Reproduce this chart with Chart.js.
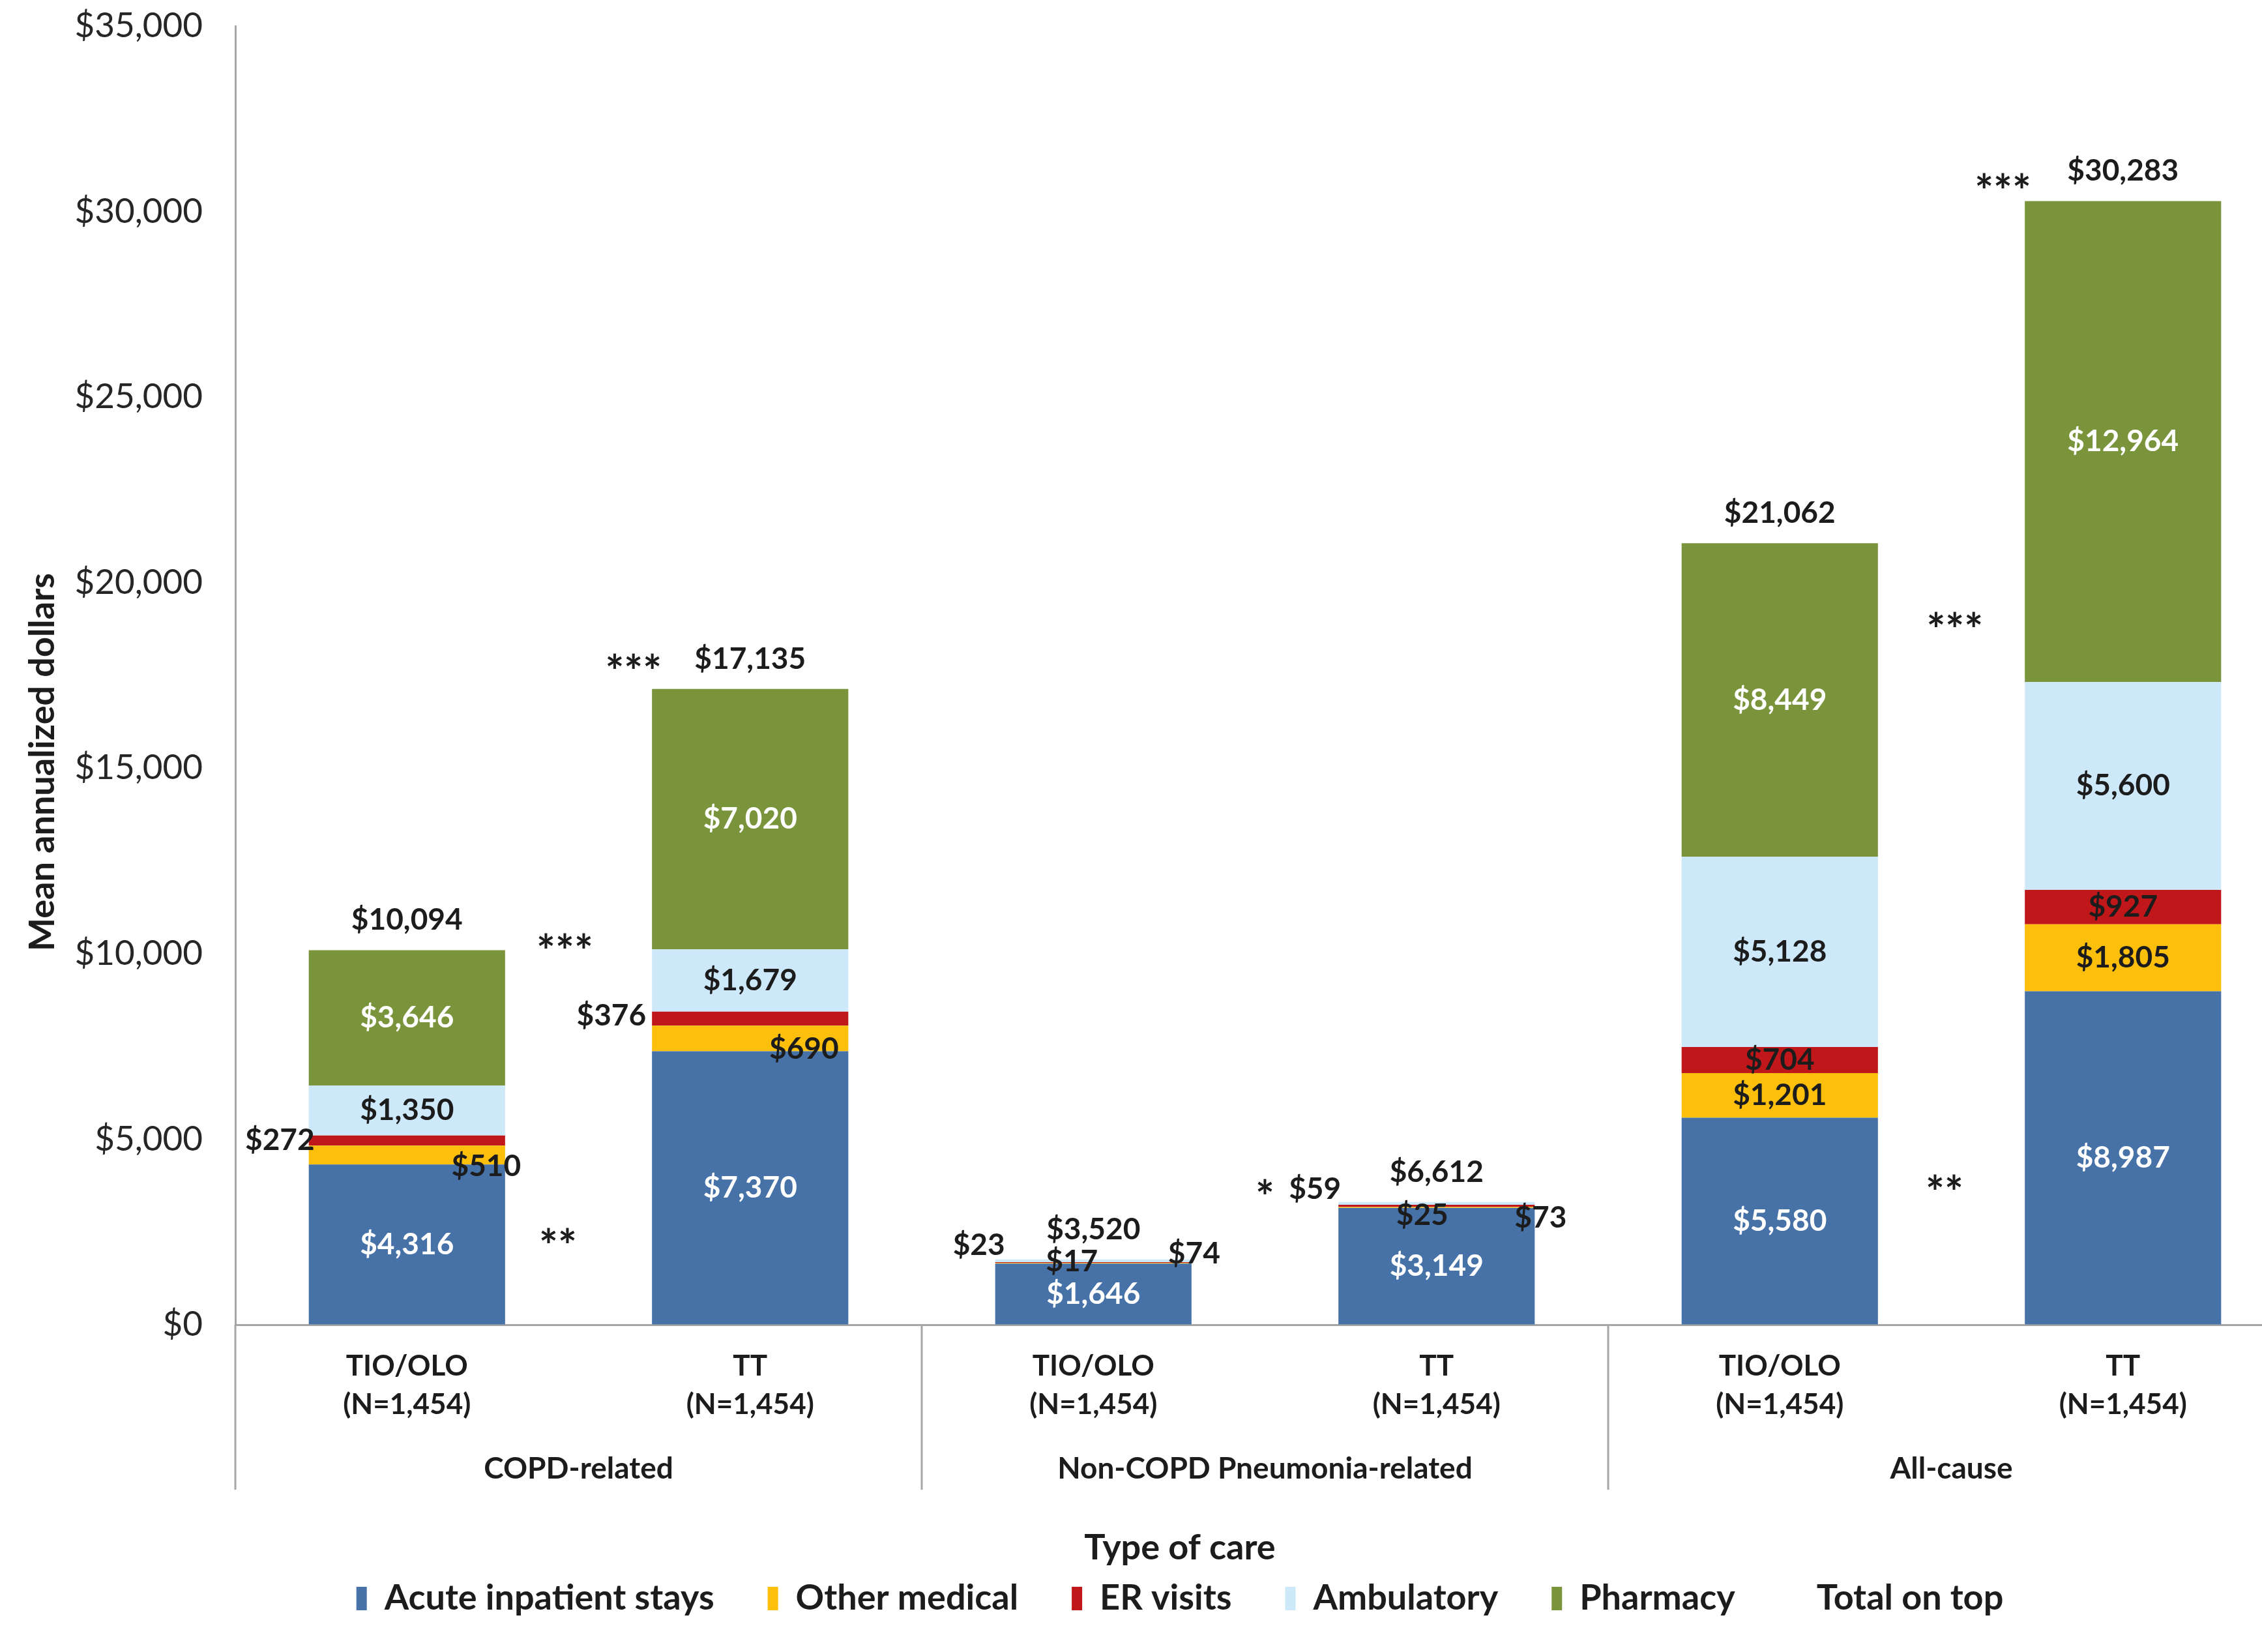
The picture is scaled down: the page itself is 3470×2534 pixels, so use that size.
<!DOCTYPE html>
<html>
<head>
<meta charset="utf-8">
<script src="https://cdn.jsdelivr.net/npm/chart.js@4.4.1/dist/chart.umd.min.js"></script>
<style>
  html, body { margin: 0; padding: 0; background: #fff; overflow: hidden; }
  #wrap { width: 3620px; height: 2534px; }
</style>
</head>
<body>
<div id="wrap"><canvas id="costChart" width="3620" height="2534"></canvas></div>
<script>
// ---- data ----
const categories = [
  ['TIO/OLO', '(N=1,454)'], ['TT', '(N=1,454)'],
  ['TIO/OLO', '(N=1,454)'], ['TT', '(N=1,454)'],
  ['TIO/OLO', '(N=1,454)'], ['TT', '(N=1,454)']
];
const groups = ['COPD-related', 'Non-COPD Pneumonia-related', 'All-cause'];
const acuteInpatient = [4316, 7370, 1646, 3149, 5580, 8987];
const otherMedical   = [510, 690, 17, 25, 1201, 1805];
const erVisits       = [272, 376, 23, 59, 704, 927];
const ambulatory     = [1350, 1679, 74, 73, 5128, 5600];
const pharmacy       = [3646, 7020, 0, 0, 8449, 12964];
const totalOnTop     = [10094, 17135, 3520, 6612, 21062, 30283];
const yTicks = [0, 5000, 10000, 15000, 20000, 25000, 30000, 35000];
// significance marks: x in category units, y in dollars
const sigText = ['***', '**', '***', '*', '***', '**', '***'];
const sigX    = [0.46, 0.44, 0.66, 2.5, 4.51, 4.48, 4.65];
const sigY    = [10306, 2372, 17850, 3694, 18978, 3811, 30800];

const FONT = 'Lato, "Open Sans", sans-serif';
const DARK = '#1c1c1c';
const AXIS = '#a6a6a6';
const money = v => '$' + v.toLocaleString('en-US');

// labels nudged off the centre of their segment ("dataset-index")
const labelTweaks = {
  '2-0': { anchor: 'left', dx: 9, dy: 0 },
  '1-0': { anchor: 'right', dx: -29, dy: 17 },
  '2-1': { anchor: 'left', dx: -9, dy: -4 },
  '1-1': { anchor: 'right', dx: -68, dy: 16 },
  '1-2': { anchor: 'center', dx: -33, dy: -3 },
  '2-2': { anchor: 'left', dx: 15, dy: -27 },
  '3-2': { anchor: 'right', dx: 4, dy: -11 },
  '1-3': { anchor: 'center', dx: -22, dy: 12 },
  '2-3': { anchor: 'left', dx: 4, dy: -26 },
  '3-3': { anchor: 'right', dx: 9, dy: 22 }
};

const segmentLabels = {
  id: 'segmentLabels',
  afterDatasetsDraw(chart) {
    const ctx = chart.ctx;
    ctx.save();
    ctx.font = 'bold 46px ' + FONT;
    ctx.textBaseline = 'middle';
    for (let d = 0; d < 5; d++) {
      const meta = chart.getDatasetMeta(d);
      const values = chart.data.datasets[d].data;
      meta.data.forEach((bar, i) => {
        if (!values[i]) return;
        const t = labelTweaks[d + '-' + i];
        let x = bar.x, y = (bar.y + bar.base) / 2;
        ctx.textAlign = 'center';
        ctx.fillStyle = (d === 0 || d === 4) ? '#ffffff' : DARK;
        if (t) {
          ctx.fillStyle = DARK;
          if (t.anchor === 'left') { x = bar.x - bar.width / 2 + t.dx; ctx.textAlign = 'right'; }
          else if (t.anchor === 'right') { x = bar.x + bar.width / 2 + t.dx; }
          else { x = bar.x + t.dx; }
          y += t.dy;
        }
        ctx.fillText(money(values[i]), x, y);
      });
    }
    // totals above the stack
    const topMeta = chart.getDatasetMeta(4);
    ctx.fillStyle = DARK;
    ctx.textAlign = 'center';
    topMeta.data.forEach((bar, i) => {
      ctx.fillText(money(totalOnTop[i]), bar.x, bar.y - 46);
    });
    // significance stars (asterisk glyph sits high, so push it down a bit)
    const xs = chart.scales.x, ys = chart.scales.y;
    const step = xs.getPixelForValue(1) - xs.getPixelForValue(0);
    ctx.font = 'bold 68px ' + FONT;
    sigText.forEach((s, k) => {
      ctx.fillText(s, xs.getPixelForValue(0) + sigX[k] * step, ys.getPixelForValue(sigY[k]) + 17);
    });
    ctx.restore();
  }
};

const groupAxis = {
  id: 'groupAxis',
  afterDraw(chart) {
    const ctx = chart.ctx;
    const xs = chart.scales.x;
    const area = chart.chartArea;
    const step = xs.getPixelForValue(1) - xs.getPixelForValue(0);
    const lineBottom = area.bottom + 253;
    ctx.save();
    ctx.strokeStyle = AXIS;
    ctx.lineWidth = 3;
    ctx.beginPath();
    for (let g = 0; g <= groups.length; g++) {
      const bx = xs.getPixelForValue(0) - step / 2 + g * 2 * step;
      ctx.moveTo(bx, area.bottom);
      ctx.lineTo(bx, lineBottom);
    }
    ctx.stroke();
    ctx.fillStyle = DARK;
    ctx.font = 'bold 46px ' + FONT;
    ctx.textAlign = 'center';
    ctx.textBaseline = 'middle';
    groups.forEach((g, k) => {
      const cx = (xs.getPixelForValue(2 * k) + xs.getPixelForValue(2 * k + 1)) / 2;
      ctx.fillText(g, cx, area.bottom + 221);
    });
    // y axis title
    ctx.translate(66, 1169);
    ctx.rotate(-Math.PI / 2);
    ctx.font = 'bold 54px ' + FONT;
    ctx.fillText('Mean annualized dollars', 0, 0);
    ctx.restore();
  }
};

const PLOT_BOTTOM = 2032;

new Chart(document.getElementById('costChart').getContext('2d'), {
  type: 'bar',
  data: {
    labels: categories,
    datasets: [
      { label: 'Acute inpatient stays', data: acuteInpatient, backgroundColor: '#4672a8' },
      { label: 'Other medical', data: otherMedical, backgroundColor: '#fbbf0c' },
      { label: 'ER visits', data: erVisits, backgroundColor: '#c0171a' },
      { label: 'Ambulatory', data: ambulatory, backgroundColor: '#cde8f9' },
      { label: 'Pharmacy', data: pharmacy, backgroundColor: '#79943b' },
      { label: 'Total on top', data: totalOnTop, backgroundColor: 'rgba(0,0,0,0)', borderWidth: 0 }
    ]
  },
  options: {
    responsive: false,
    animation: false,
    devicePixelRatio: 1,
    categoryPercentage: 1,
    barPercentage: 0.572,
    layout: { padding: { top: 40, right: 100, left: 100, bottom: 45 } },
    plugins: {
      tooltip: { enabled: false },
      legend: {
        position: 'bottom',
        title: {
          display: true, text: 'Type of care', color: DARK,
          font: { family: FONT, size: 54, weight: 'bold' },
          padding: { top: 0, bottom: -69.8 }
        },
        labels: {
          color: DARK, boxWidth: 16, boxHeight: 36, padding: 82,
          font: { family: FONT, size: 54, weight: 'bold' }
        }
      }
    },
    scales: {
      x: {
        stacked: true,
        grid: { display: true, drawOnChartArea: false, drawTicks: false },
        border: { display: true, color: AXIS, width: 3 },
        ticks: { color: DARK, padding: 34, font: { family: FONT, size: 44, weight: 'bold', lineHeight: 1.35 } },
        afterFit(scale) {
          scale.height = scale.chart.height - 45 - scale.chart.legend.height - PLOT_BOTTOM;
        }
      },
      y: {
        stacked: true,
        min: 0, max: 35000,
        afterBuildTicks(scale) { scale.ticks = yTicks.map(v => ({ value: v })); },
        grid: { display: true, drawOnChartArea: false, drawTicks: false },
        border: { display: true, color: AXIS, width: 3 },
        ticks: { color: '#262626', padding: 50, font: { family: FONT, size: 53 }, callback: v => money(v) },
        afterFit(scale) {
          scale.width = 261;
          scale.paddingTop = 0;
        }
      }
    }
  },
  plugins: [segmentLabels, groupAxis]
});
</script>
</body>
</html>
